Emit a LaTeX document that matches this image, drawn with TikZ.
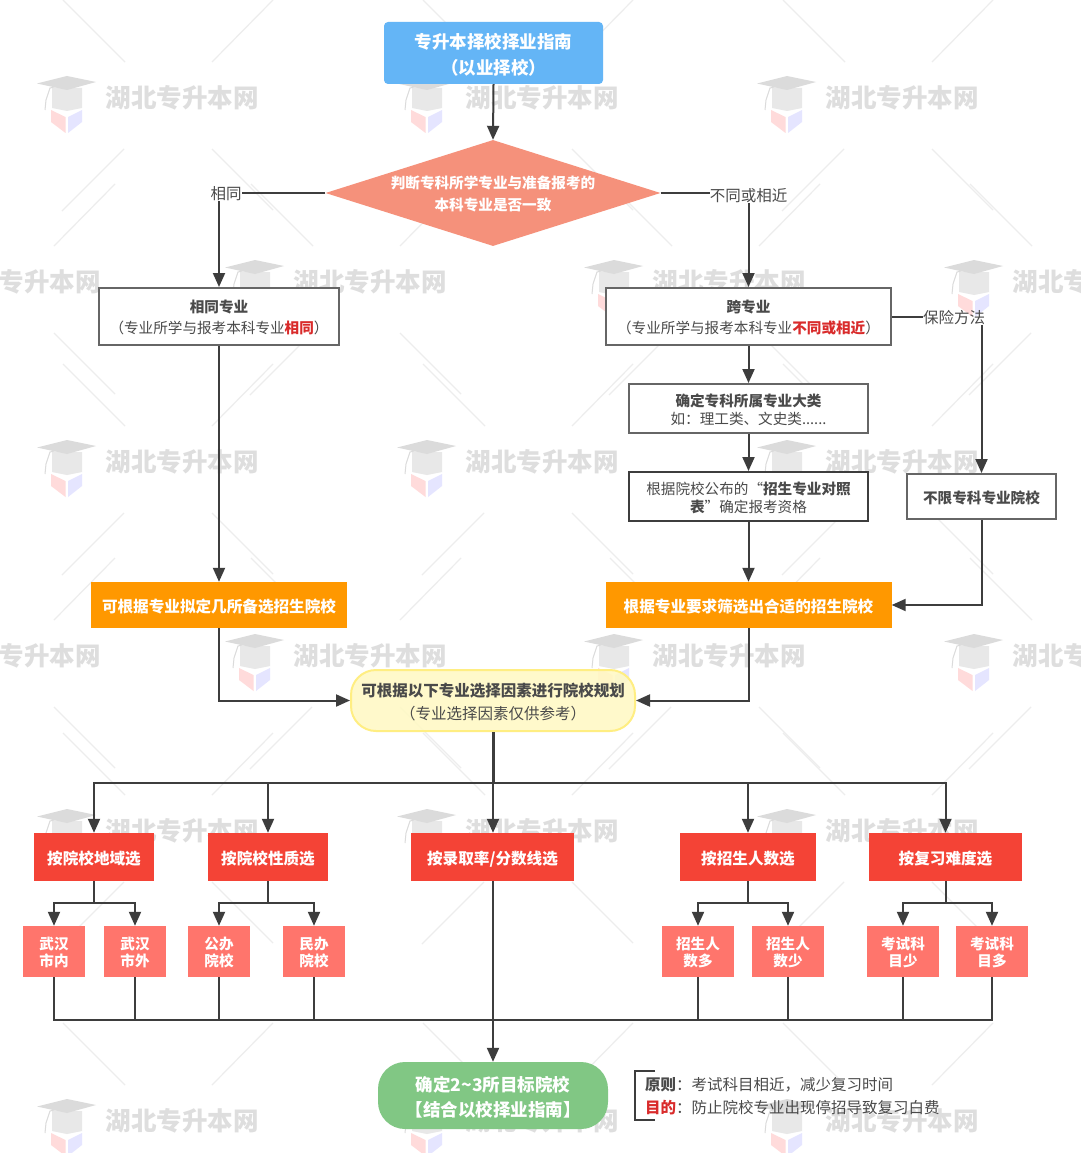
\documentclass[tikz,border=0pt]{standalone}
\usepackage{fontspec}
\setmainfont{Noto Sans CJK SC}
\usetikzlibrary{arrows.meta,shapes.geometric,calc}
\definecolor{ink}{HTML}{4A4A4A}
\definecolor{wire}{HTML}{3D3D3D}
\definecolor{edge}{HTML}{666666}
\definecolor{hot}{HTML}{D92B2B}
\colorlet{capgrey}{black!14}
\colorlet{capbody}{black!9}
\newcommand{\fz}[2]{\fontsize{#1pt}{#2pt}\selectfont}
\newcommand{\nudge}{\rule{0pt}{1.1em}}
\newcommand{\nudgeb}{\rule{0pt}{1.05em}}
\newcommand{\wmtile}[2]{%
 \begin{scope}[shift={(#1pt,-#2pt)}]
  \draw[wmline] (63,0)--(125,62) (273,0)--(212,62) (124,149)--(62,211) (212,149)--(273,210);
  \fill[capbody] (52,88)--(82,88)--(82,108)--(67,111)--(52,108)--cycle;
  \fill[capgrey] (37,83.5)--(67,76)--(96,82)--(67,90)--cycle;
  \draw[capgrey,line width=1pt] (67,84)--(50,88)--(46,100)--(45,110);
  \fill[red!14] (51,110)--(65.5,117)--(65.5,133)--(51,122)--cycle;
  \fill[blue!10] (82,110)--(68,117)--(68,133)--(82,122)--cycle;
  \node[wmtext,anchor=west] (wm#1x#2) at (105.5,97.5) {湖北专升本网};
 \end{scope}}
\tikzset{
 wmline/.style={draw=black!7,line width=1.2pt},
 wmtext/.style={text=black!13,font=\fz{25.5}{30}\bfseries,inner sep=0pt},
 bx/.style={draw=edge,line width=2pt,fill=white,text=ink,align=center,inner sep=0pt,font=\fz{14.6}{21}},
 solid box/.style={align=center,inner sep=0pt,text=white,font=\fz{15.6}{20}\bfseries},
 lbl/.style={text=ink,inner sep=0pt,font=\fz{15.5}{20}},
 wire/.style={draw=wire,line width=2pt},
 arr/.style={wire,-{Triangle[length=14pt,width=12pt]}},
 one line/.style={execute at begin node=\nudge},
}
\definecolor{titleblue}{HTML}{64B5F6}
\definecolor{salmon}{HTML}{F5917B}
\definecolor{amber}{HTML}{FF9800}
\definecolor{redm}{HTML}{F44336}
\definecolor{redl}{HTML}{FF756C}
\definecolor{leaf}{HTML}{81C784}
\definecolor{cream}{HTML}{FFF9C4}
\definecolor{creamedge}{HTML}{FFEE82}
\tikzset{
 redbig/.style={solid box,one line,fill=redm,minimum height=48pt},
 redsmall/.style={solid box,fill=redl,minimum height=51pt,font=\fz{14.6}{17}\bfseries},
 orange/.style={solid box,one line,fill=amber,minimum height=46pt},
}
\begin{document}
\begin{tikzpicture}[x=1pt,y=-1pt]
\useasboundingbox (0,0) rectangle (1080,1153);
\fill[white] (0,0) rectangle (1080,1153);
% watermarks
\begin{scope}
\clip (0,0) rectangle (1080,1153);
\foreach \dy in {0,364,733,1023}{
  \foreach \dx in {0,360,720}{\wmtile{\dx}{\dy}}}
\foreach \dy in {184,558}{
  \foreach \dx in {-158,188,547,907}{\wmtile{\dx}{\dy}}}
\end{scope}
% nodes
\node[solid box,fill=titleblue,rounded corners=4pt,minimum width=219pt,minimum height=62pt,font=\fz{17.5}{26}\bfseries] (title) at (493.5,53) {\nudgeb 专升本择校择业指南\\（以业择校）};
\node[diamond,fill=salmon,aspect=3.16,minimum width=335pt,minimum height=106pt,inner sep=0pt,align=center,text=white,font=\fz{14.6}{22}\bfseries] (judge) at (493,193) {\nudgeb 判断专科所学专业与准备报考的\\本科专业是否一致};
\node[lbl] (same label) at (226,194) {相同};
\node[lbl] (diff label) at (748.5,195.5) {不同或相近};
\node[bx,minimum width=240pt,minimum height=57pt] (same) at (219,316.5) {\nudgeb\textbf{相同专业}\\（专业所学与报考本科专业\textcolor{hot}{\textbf{相同}}）};
\node[bx,minimum width=285pt,minimum height=57pt] (cross) at (748.5,316.5) {\nudgeb\textbf{跨专业}\\（专业所学与报考本科专业\textcolor{hot}{\textbf{不同或相近}}）};
\node[lbl] (safe label) at (954,317.5) {保险方法};
\node[bx,minimum width=239pt,minimum height=49pt,font=\fz{14.6}{18}] (major) at (748.5,408.5) {\nudgeb\textbf{确定专科所属专业大类}\\如：理工类、文史类......};
\node[bx,draw=wire,minimum width=239pt,minimum height=49pt,font=\fz{14.6}{18}] (table) at (748.5,496.5) {\nudgeb 根据院校公布的“\textbf{招生专业对照}\\\textbf{表}”确定报考资格};
\node[bx,one line,minimum width=149pt,minimum height=45pt] (anymajor) at (981.5,496.5) {\textbf{不限专科专业院校}};
\node[orange,minimum width=256pt,font=\fz{15.6}{20}\bfseries] (backup) at (219,605) {可根据专业拟定几所备选招生院校};
\node[orange,minimum width=286pt,font=\fz{15.6}{20}\bfseries] (filter) at (748.5,605) {根据专业要求筛选出合适的招生院校};
\node[draw=creamedge,line width=2pt,fill=cream,fill opacity=.88,text opacity=1,rounded corners=25pt,minimum width=284pt,minimum height=61pt,inner sep=0pt,align=center,text=ink,font=\fz{15.5}{23}] (plan) at (493,700.5) {\nudgeb\textbf{可根据以下专业选择因素进行院校规划}\\（专业选择因素仅供参考）};
\node[redbig,minimum width=120pt] (r1) at (94,857) {按院校地域选};
\node[redbig,minimum width=120pt] (r2) at (268,857) {按院校性质选};
\node[redbig,minimum width=163pt] (r3) at (492.5,857) {按录取率/分数线选};
\node[redbig,minimum width=136pt] (r4) at (748,857) {按招生人数选};
\node[redbig,minimum width=153pt] (r5) at (945.5,857) {按复习难度选};
\node[redsmall,minimum width=62pt] (s1) at (54,951.5) {\nudgeb 武汉\\市内};
\node[redsmall,minimum width=62pt] (s2) at (135,951.5) {\nudgeb 武汉\\市外};
\node[redsmall,minimum width=62pt] (s3) at (219,951.5) {\nudgeb 公办\\院校};
\node[redsmall,minimum width=62pt] (s4) at (314,951.5) {\nudgeb 民办\\院校};
\node[redsmall,minimum width=72pt] (s5) at (698,951.5) {\nudgeb 招生人\\数多};
\node[redsmall,minimum width=72pt] (s6) at (788,951.5) {\nudgeb 招生人\\数少};
\node[redsmall,minimum width=72pt] (s7) at (903,951.5) {\nudgeb 考试科\\目少};
\node[redsmall,minimum width=72pt] (s8) at (992,951.5) {\nudgeb 考试科\\目多};
\node[solid box,fill=leaf,rounded corners=27pt,minimum width=230pt,minimum height=67pt,font=\fz{17.5}{25}\bfseries] (goal) at (493,1095.5) {\nudgeb 确定2\textasciitilde 3所目标院校\\【结合以校择业指南】};
\node[lbl,anchor=west] (note1) at (645,1084.5) {\textbf{原则}：考试科目相近，减少复习时间};
\node[lbl,anchor=west] (note2) at (645,1107.5) {\textcolor{hot}{\textbf{目的}}：防止院校专业出现停招导致复习白费};
% junctions
\coordinate (busa) at (493,783);
\coordinate (busb) at (493,1020);
\coordinate (j1) at (94,903);
\coordinate (j2) at (268,903);
\coordinate (j4) at (748,903);
\coordinate (j5) at (945.5,903);
\coordinate (brA) at (655,1071);
\coordinate (brB) at (655,1120);
% connectors
\draw[arr] (title.south) -- (judge.north);
\draw[wire] (judge.west) -- (judge.west -| same label.east);
\draw[arr] (same label.south -| same.north) -- (same.north);
\draw[wire] (judge.east) -- (judge.east -| diff label.west);
\draw[arr] (diff label.south) -- (cross.north);
\draw[arr] (same.south) -- (backup.north);
\draw[arr] (cross.south) -- (major.north);
\draw[arr] (major.south) -- (table.north);
\draw[arr] (table.south) -- (filter.north);
\draw[wire] (cross.east) -- (cross.east -| safe label.west);
\draw[arr] (safe label.south -| anymajor.north) -- (anymajor.north);
\draw[arr] (anymajor.south) |- (filter.east);
\draw[arr] (backup.south) |- (plan.west);
\draw[arr] (filter.south) |- (plan.east);
\draw[wire,line width=3pt] (plan.south) -- (busa);
\draw[arr] (busa) -- (busa |- r3.north);
\draw[arr] (busa) -| (r1.north);
\draw[arr] (busa) -| (r2.north);
\draw[arr] (busa) -| (r4.north);
\draw[arr] (busa) -| (r5.north);
\draw[wire] (r1.south) -- (j1);
\draw[arr] (j1) -| (s1.north);
\draw[arr] (j1) -| (s2.north);
\draw[wire] (r2.south) -- (j2);
\draw[arr] (j2) -| (s3.north);
\draw[arr] (j2) -| (s4.north);
\draw[wire] (r4.south) -- (j4);
\draw[arr] (j4) -| (s5.north);
\draw[arr] (j4) -| (s6.north);
\draw[wire] (r5.south) -- (j5);
\draw[arr] (j5) -| (s7.north);
\draw[arr] (j5) -| (s8.north);
\foreach \n in {s1,s2,s3,s4,s5,s6,s7,s8}{\draw[wire] (\n.south) |- (busb);}
\draw[arr] (busa |- r3.south) -- (goal.north);
\draw[wire] (brA) -- (635,1071) -- (635,1120) -- (brB);
\end{tikzpicture}
\end{document}
